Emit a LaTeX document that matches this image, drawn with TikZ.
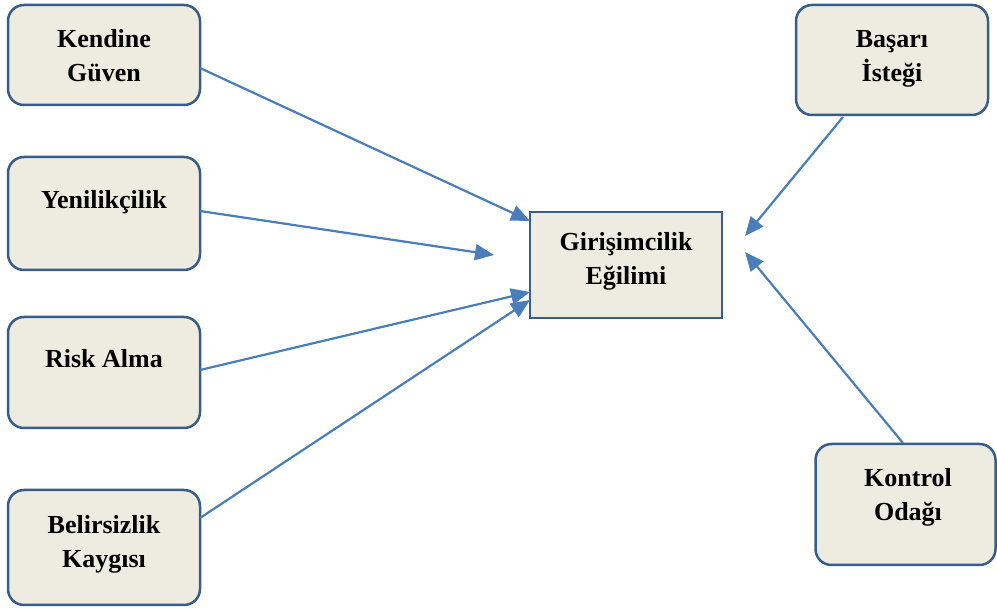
\documentclass[tikz,border=0pt]{standalone}
\usepackage{fontspec}
\setmainfont{Liberation Serif}
\usetikzlibrary{arrows.meta}
\definecolor{boxfill}{HTML}{EEECE1}
\definecolor{boxline}{HTML}{385D8A}
\definecolor{arrowc}{HTML}{4A7EBB}
\tikzset{
  rbox/.style={draw=boxline, fill=boxfill, line width=2.5pt, rounded corners=16pt, minimum width=192pt, outer sep=0pt, inner sep=0pt},
  sbox/.style={draw=boxline, fill=boxfill, line width=2.5pt, minimum width=192pt, outer sep=0pt, inner sep=0pt},
  lbl/.style={align=center, inner sep=0pt, font=\fontsize{26}{34}\selectfont\bfseries},
  conn/.style={draw=arrowc, line width=2.2pt, -{Triangle[length=19pt,width=16pt]}}
}
\begin{document}
\begin{tikzpicture}[x=1pt,y=-1pt]
\useasboundingbox (0,0) rectangle (997,609);
% boxes
\node[rbox, minimum height=100pt] (kg) at (104,55) {};
\node[rbox, minimum height=113pt] (yn) at (104,213.5) {};
\node[rbox, minimum height=111pt] (ra) at (104,372.5) {};
\node[rbox, minimum height=115pt] (bk) at (104,547.5) {};
\node[sbox, minimum height=106pt] (ge) at (626,265) {};
\node[rbox, minimum height=110pt] (bi) at (892,60) {};
\node[rbox, minimum width=180pt, minimum height=121pt] (ko) at (905.5,504.5) {};
% labels
\node[lbl] (kgt) at (104,56) {Kendine\\Güven};
\node[lbl] (ynt) at (104,202) {Yenilikçilik};
\node[lbl] (rat) at (104,359) {Risk Alma};
\node[lbl] (bkt) at (104,544) {Belirsizlik\\Kaygısı};
\node[lbl] (get) at (626,261) {Girişimcilik\\Eğilimi};
\node[lbl] (bit) at (892,59) {Başarı\\İsteği};
\node[lbl] (kot) at (908,497) {Kontrol\\Odağı};
% free ends
\coordinate (e2) at (494,255);
\coordinate (e5) at (745,236);
\coordinate (e6) at (745,252);
% connectors
\draw[conn] ([yshift=-13pt]kg.east) -- ([yshift=-9pt]ge.north west);
\draw[conn] ([yshift=2.5pt]yn.east) -- (e2);
\draw[conn] ([yshift=2.5pt]ra.east) -- ([yshift=-27pt]ge.west);
\draw[conn] ([yshift=29.5pt]bk.east) -- ([yshift=-35pt]ge.west);
\draw[conn] ([xshift=-49pt,yshift=-2pt]bi.south) -- (e5);
\draw[conn] ([xshift=-2.5pt,yshift=1pt]ko.north) -- (e6);
\end{tikzpicture}
\end{document}
